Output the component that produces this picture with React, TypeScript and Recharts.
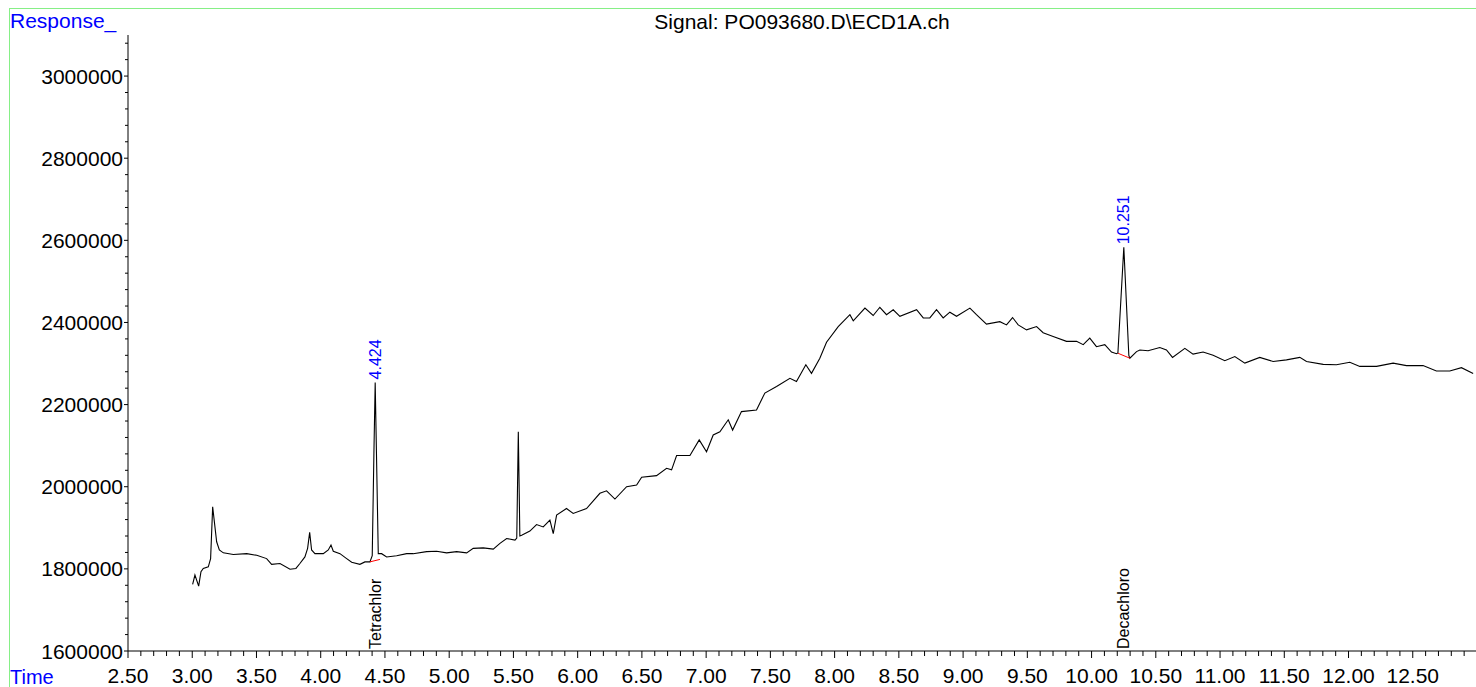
import React from "react";
import { LineChart, Line, XAxis, YAxis, ReferenceLine, ReferenceDot } from "recharts";

// retention time (min) / detector response
const retentionTimes = [
  3.003, 3.021, 3.05, 3.068, 3.086, 3.125, 3.143, 3.159, 3.19, 3.211, 3.242, 3.32, 3.424, 3.502,
  3.579, 3.618, 3.683, 3.761, 3.807, 3.838, 3.877, 3.898, 3.914, 3.929, 3.955, 4.02, 4.059, 4.08,
  4.098, 4.15, 4.202, 4.241, 4.305, 4.344, 4.383, 4.401, 4.414, 4.424, 4.434, 4.448, 4.474, 4.513,
  4.591, 4.669, 4.72, 4.824, 4.902, 4.98, 5.058, 5.136, 5.187, 5.265, 5.343, 5.395, 5.447, 5.512,
  5.526, 5.538, 5.55, 5.564, 5.628, 5.68, 5.732, 5.784, 5.81, 5.836, 5.913, 5.965, 6.069, 6.173,
  6.225, 6.29, 6.381, 6.459, 6.498, 6.614, 6.692, 6.731, 6.77, 6.874, 6.946, 7.003, 7.055, 7.107,
  7.172, 7.206, 7.275, 7.392, 7.457, 7.548, 7.652, 7.703, 7.776, 7.82, 7.885, 7.937, 8.028, 8.119,
  8.145, 8.236, 8.3, 8.352, 8.404, 8.456, 8.508, 8.638, 8.69, 8.741, 8.793, 8.845, 8.897, 8.949,
  9.053, 9.104, 9.182, 9.286, 9.338, 9.385, 9.429, 9.494, 9.572, 9.623, 9.701, 9.805, 9.883, 9.935,
  9.986, 10.038, 10.103, 10.155, 10.194, 10.205, 10.251, 10.29, 10.298, 10.35, 10.376, 10.44,
  10.531, 10.583, 10.63, 10.726, 10.79, 10.868, 10.946, 11.037, 11.115, 11.193, 11.309, 11.413,
  11.517, 11.621, 11.673, 11.803, 11.906, 12.01, 12.088, 12.218, 12.347, 12.451, 12.58, 12.684,
  12.788, 12.879, 12.97,
];
const responses = [
  1762000, 1785000, 1758000, 1793000, 1801000, 1805000, 1825000, 1951000, 1866000, 1846000, 1839000, 1835000, 1837000, 1833000,
  1825000, 1811000, 1813000, 1799000, 1801000, 1813000, 1829000, 1850000, 1889000, 1846000, 1837000, 1837000, 1846000, 1858000,
  1843000, 1837000, 1825000, 1816000, 1811000, 1817000, 1817000, 1832000, 2080000, 2254000, 2080000, 1837000, 1837000, 1829000,
  1832000, 1837000, 1837000, 1842000, 1843000, 1839000, 1842000, 1839000, 1850000, 1851000, 1848000, 1862000, 1874000, 1870000,
  1875000, 2134000, 1880000, 1882000, 1892000, 1908000, 1902000, 1919000, 1886000, 1931000, 1947000, 1935000, 1947000, 1984000,
  1990000, 1970000, 2000000, 2004000, 2023000, 2027000, 2045000, 2041000, 2076000, 2076000, 2114000, 2085000, 2126000, 2134000,
  2163000, 2138000, 2183000, 2187000, 2228000, 2244000, 2264000, 2256000, 2297000, 2276000, 2313000, 2352000, 2390000, 2419000,
  2404000, 2435000, 2417000, 2437000, 2419000, 2431000, 2415000, 2431000, 2411000, 2411000, 2431000, 2411000, 2425000, 2415000,
  2435000, 2419000, 2396000, 2402000, 2394000, 2412000, 2394000, 2382000, 2390000, 2375000, 2366000, 2354000, 2354000, 2346000,
  2362000, 2341000, 2346000, 2328000, 2324000, 2326000, 2583000, 2320000, 2313000, 2329000, 2333000, 2331000,
  2339000, 2333000, 2315000, 2337000, 2323000, 2328000, 2320000, 2307000, 2317000, 2301000, 2315000, 2305000,
  2309000, 2315000, 2305000, 2298000, 2297000, 2303000, 2293000, 2293000, 2301000, 2295000, 2295000, 2282000,
  2282000, 2290000, 2276000,
];

// integrated peaks
const peakTimes = [4.424, 10.251];
const peakApex = [2254000, 2583000];
const peakNames = ["Tetrachlor", "Decachloro"];
const baseStartTime = [4.383, 10.206];
const baseStartResp = [1817000, 2325000];
const baseEndTime = [4.461, 10.298];
const baseEndResp = [1823000, 2313000];

const xMajorTicks = [2.5, 3.0, 3.5, 4.0, 4.5, 5.0, 5.5, 6.0, 6.5, 7.0, 7.5, 8.0, 8.5, 9.0, 9.5, 10.0, 10.5, 11.0, 11.5, 12.0, 12.5];
const yMajorTicks = [1600000, 1800000, 2000000, 2200000, 2400000, 2600000, 2800000, 3000000];

const xTicks: number[] = [];
for (let i = 0; i <= 105; i++) xTicks.push(Math.round((2.5 + i * 0.1) * 10) / 10);
const yTicks: number[] = [];
for (let i = 0; i <= 37; i++) yTicks.push(1600000 + i * 40000);

const data = retentionTimes.map((t, i) => ({ time: t, response: responses[i] }));

const FONT = '"Liberation Sans", Arial, sans-serif';

function XTick(props: any) {
  const { x, y, payload } = props;
  const v = payload.value;
  const major = xMajorTicks.some((m) => Math.abs(m - v) < 1e-6);
  return (
    <g>
      <line x1={x} x2={x} y1={y} y2={y + (major ? 7 : 5)} stroke="#000" />
      {major && (
        <text x={x} y={y + 32} textAnchor="middle" fontSize={21} fontFamily={FONT} fill="#000">
          {v.toFixed(2)}
        </text>
      )}
    </g>
  );
}

function YTick(props: any) {
  const { x, y, payload } = props;
  const v = payload.value;
  const major = yMajorTicks.includes(v);
  return (
    <g>
      <line x1={x - (major ? 4 : 3)} x2={x} y1={y} y2={y} stroke="#000" />
      {major && (
        <text x={x - 5} y={y} textAnchor="end" dominantBaseline="central" fontSize={21} fontFamily={FONT} fill="#000">
          {v}
        </text>
      )}
    </g>
  );
}

function VText({ cx, cy, text, color }: { cx: number; cy: number; text: string; color: string }) {
  return (
    <text
      x={cx}
      y={cy}
      transform={`rotate(-90 ${cx} ${cy})`}
      textAnchor="start"
      dominantBaseline="central"
      fontSize={16}
      fontFamily={FONT}
      fill={color}
    >
      {text}
    </text>
  );
}

export default function App() {
  return (
    <div style={{ position: "fixed", left: 0, top: 0, width: 1476, height: 687, overflow: "hidden", background: "#fff" }}>
      <div
        style={{
          position: "absolute",
          left: 9,
          top: 8,
          width: 1500,
          height: 700,
          borderLeft: "1px solid #86ef86",
          borderTop: "1px solid #86ef86",
        }}
      />
      <div style={{ position: "absolute", left: 0, top: 0 }}>
        <LineChart width={1500} height={687} data={data} margin={{ top: 35, right: 23, left: 0, bottom: 0 }}>
          <XAxis
            dataKey="time"
            type="number"
            domain={[2.5, 13]}
            ticks={xTicks}
            interval={0}
            height={36}
            tickSize={0}
            tickMargin={0}
            tickLine={false}
            axisLine={{ stroke: "#000" }}
            tick={<XTick />}
            allowDataOverflow
          />
          <YAxis
            type="number"
            domain={[1600000, 3100000]}
            ticks={yTicks}
            interval={0}
            width={128}
            tickSize={0}
            tickMargin={0}
            tickLine={false}
            axisLine={{ stroke: "#000" }}
            tick={<YTick />}
            allowDataOverflow
          />
          <Line dataKey="response" type="linear" stroke="#000" strokeWidth={1.1} dot={false} isAnimationActive={false} />
          {peakTimes.map((t, i) => (
            <ReferenceLine
              key={"b" + i}
              segment={[
                { x: baseStartTime[i], y: baseStartResp[i] },
                { x: baseEndTime[i], y: baseEndResp[i] },
              ]}
              stroke="#ff0000"
              strokeWidth={1}
              ifOverflow="visible"
            />
          ))}
          {peakTimes.map((t, i) => (
            <ReferenceDot
              key={"p" + i}
              x={t}
              y={peakApex[i]}
              r={0}
              ifOverflow="visible"
              shape={(p: any) => <VText cx={p.cx} cy={p.cy - 3} text={t.toFixed(3)} color="#0000ff" />}
            />
          ))}
          {peakTimes.map((t, i) => (
            <ReferenceDot
              key={"n" + i}
              x={t}
              y={1600000}
              r={0}
              ifOverflow="visible"
              shape={(p: any) => <VText cx={p.cx} cy={p.cy - 2} text={peakNames[i]} color="#000" />}
            />
          ))}
        </LineChart>
      </div>
      <svg width={1476} height={687} style={{ position: "absolute", left: 0, top: 0, pointerEvents: "none" }}>
        <text x={10} y={28} fontSize={21} fontFamily={FONT} fill="#0000ff">
          Response_
        </text>
        <text x={10} y={684} fontSize={20} fontFamily={FONT} fill="#0000ff">
          Time
        </text>
        <text x={802} y={29} textAnchor="middle" fontSize={21} fontFamily={FONT} fill="#000">
          {"Signal: PO093680.D\\ECD1A.ch"}
        </text>
      </svg>
    </div>
  );
}
